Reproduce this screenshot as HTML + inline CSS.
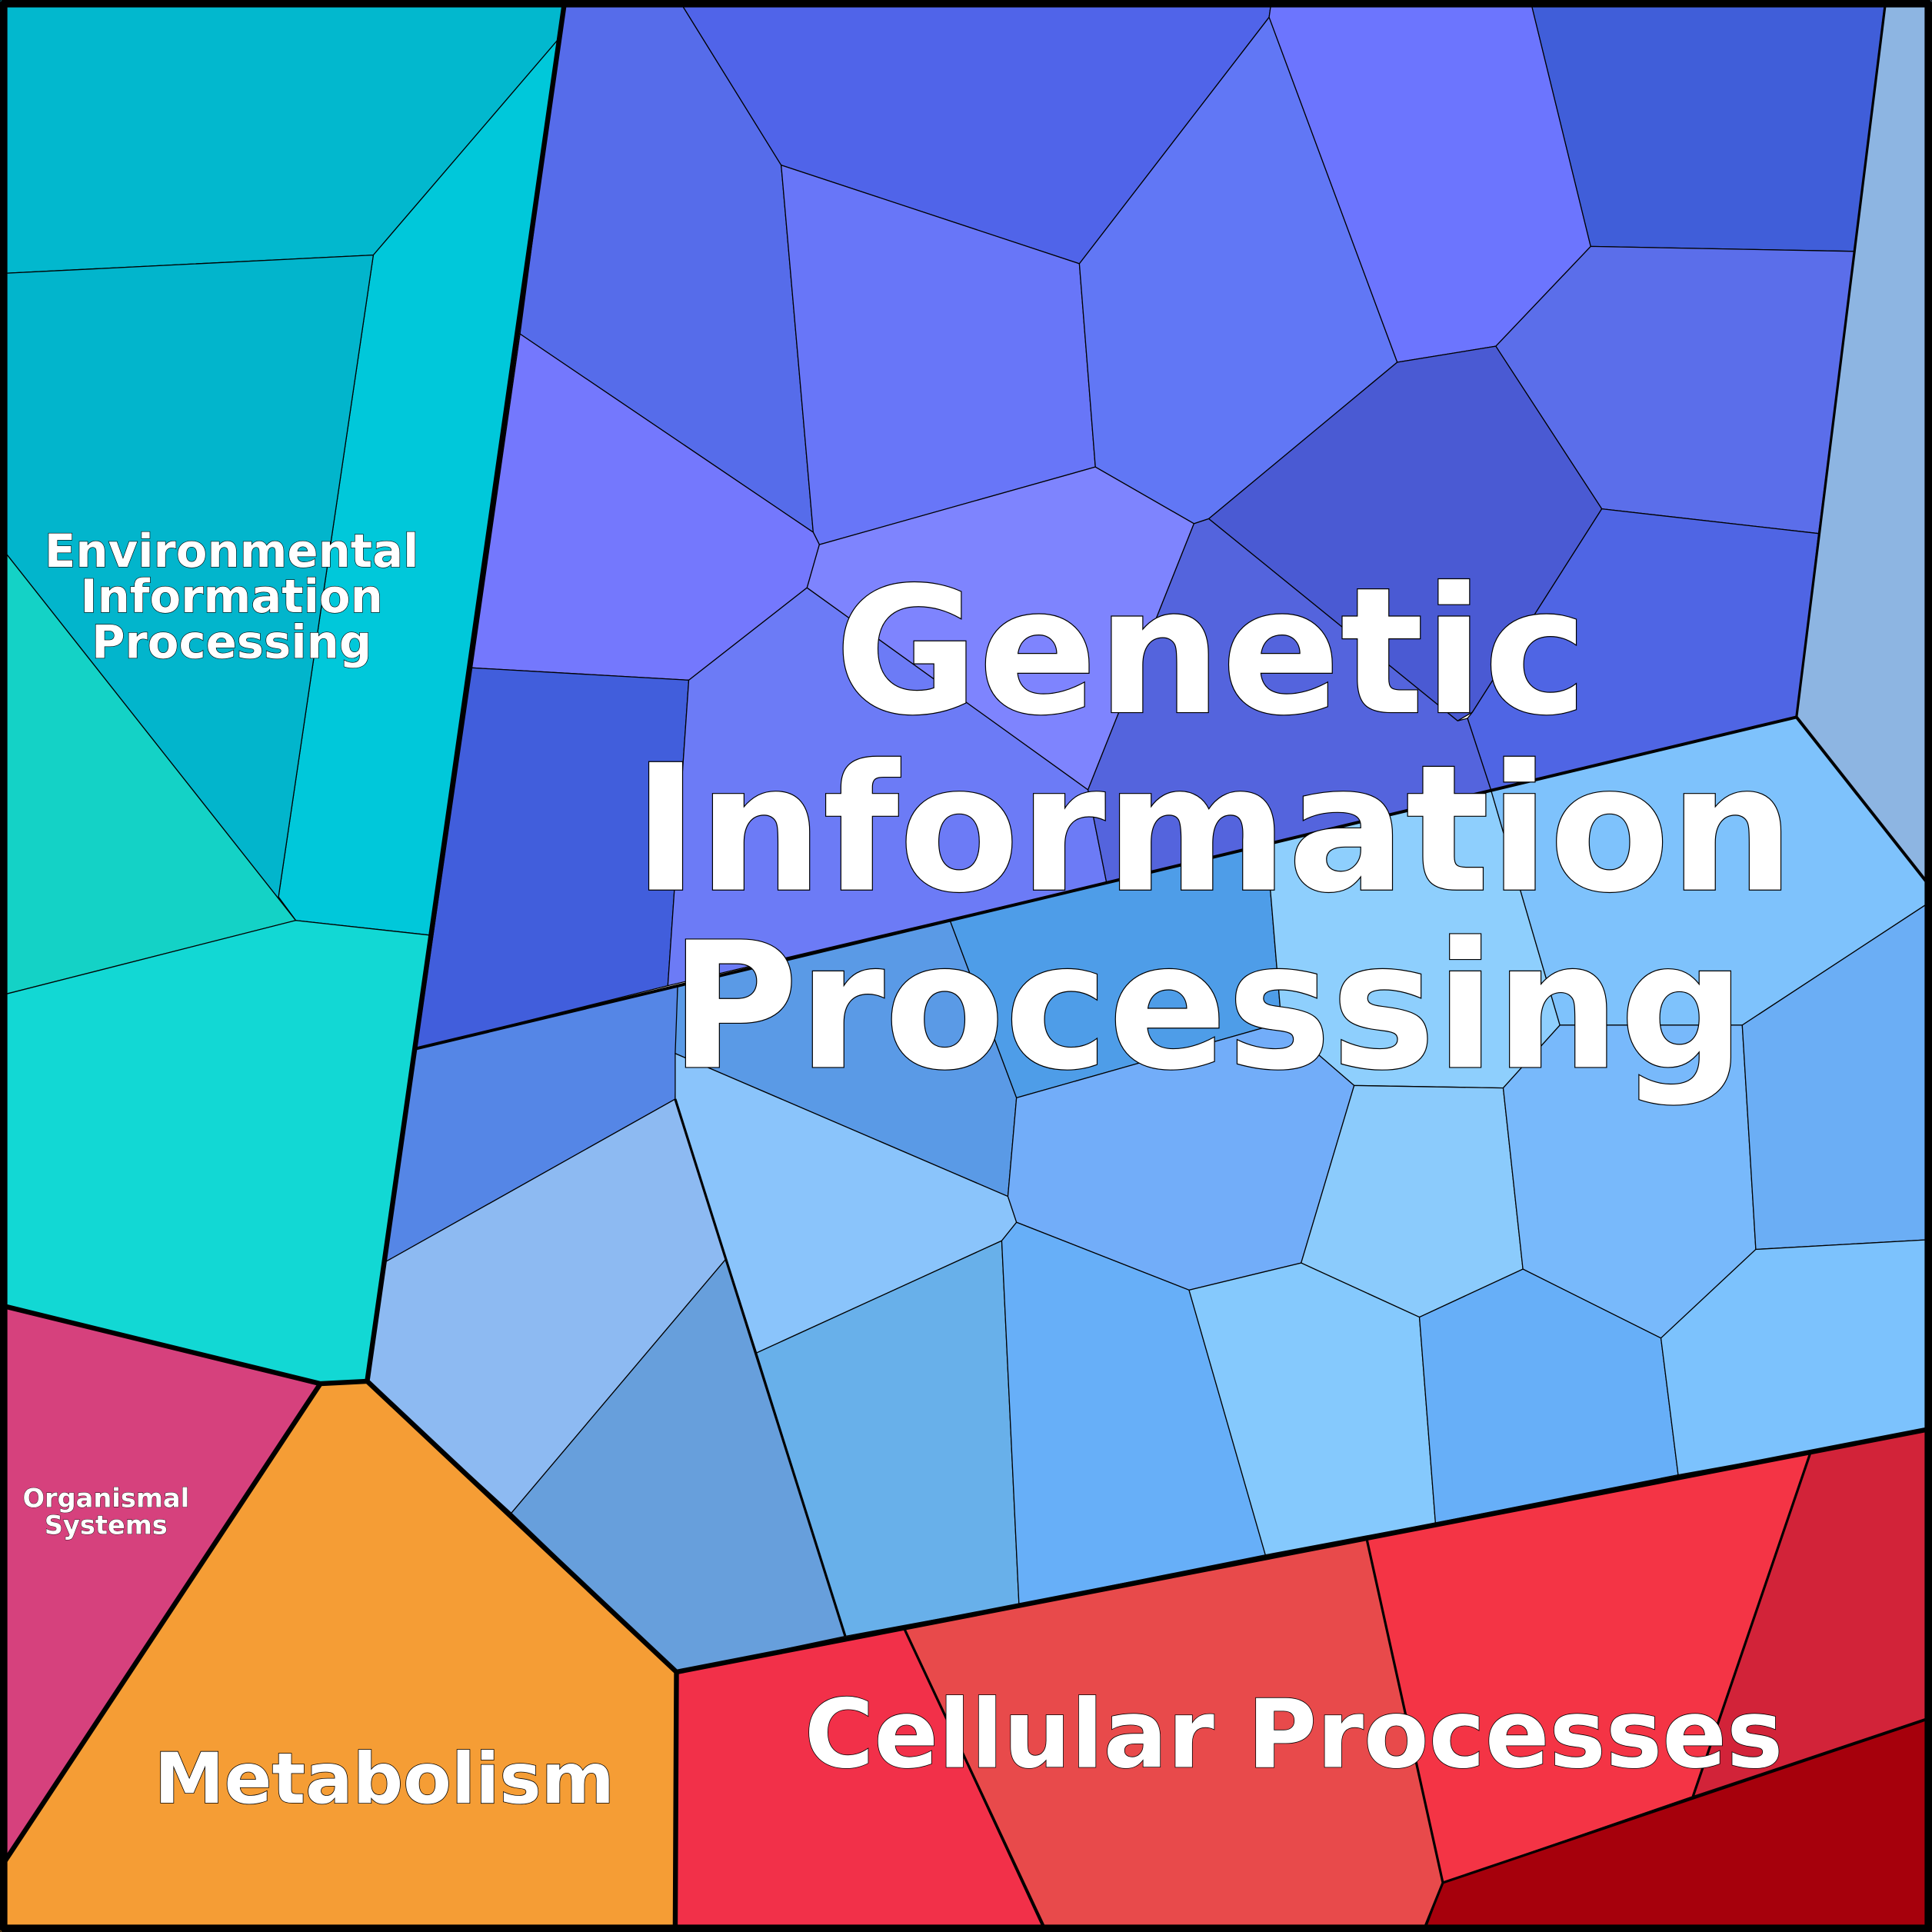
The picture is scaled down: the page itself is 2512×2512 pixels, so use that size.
<!DOCTYPE html>
<html><head><meta charset="utf-8"><style>html,body{margin:0;padding:0;background:#fff}svg{display:block}
text{font-family:"DejaVu Sans","Liberation Sans",sans-serif;font-weight:bold;fill:#fff;stroke:#000;paint-order:stroke;text-anchor:middle}</style></head>
<body>
<svg width="2512" height="2512" viewBox="0 0 1568 1568" xmlns="http://www.w3.org/2000/svg">
<g stroke="#000" stroke-width="0.8" stroke-linejoin="round">
<polygon fill="#02B8CE" points="0,0 458,0 453,32 303,207 0,222"/>
<polygon fill="#00C8DA" points="453,32 458,5 349,759 240,747 226,728 303,207"/>
<polygon fill="#02B5CC" points="0,222 303,207 226,728 240,747 0,443"/>
<polygon fill="#14D2C6" points="0,443 240,747 0,808"/>
<polygon fill="#12D8D4" points="0,808 240,747 349,759 298,1121 260,1123 0,1060"/>
<polygon fill="#D6417D" points="0,1060 260,1123 0,1515"/>
<polygon fill="#F59D35" points="260,1123 298,1121 549,1357 548,1568 0,1568 0,1515"/>
<polygon fill="#F23049" points="549,1357 734,1322 848,1568 548,1568"/>
<polygon fill="#E84A4B" points="734,1322 1109,1248 1171,1528 1156,1568 848,1568"/>
<polygon fill="#F43445" points="1109,1248 1469,1180 1374,1458 1171,1528"/>
<polygon fill="#D22339" points="1469,1180 1568,1160 1568,1395 1374,1458"/>
<polygon fill="#A6000C" points="1171,1528 1374,1458 1568,1393 1568,1568 1156,1568"/>
<polygon fill="#8DB5E2" points="1530,0 1568,0 1568,715 1563,715 1458,582"/>
<polygon fill="#566CEA" points="458,0 551,0 634,134 660,432 422,271"/>
<polygon fill="#5064E9" points="551,0 1032,0 1030,14 876,214 634,134"/>
<polygon fill="#6876F8" points="634,134 876,214 889,379 665,442 660,432"/>
<polygon fill="#6177F5" points="1030,14 1134,294 981,421 969,425 889,379 876,214"/>
<polygon fill="#6C75FE" points="1032,0 1242,0 1291,200 1214,281 1134,294 1030,14"/>
<polygon fill="#405ED9" points="1242,0 1530,0 1505,204 1291,200"/>
<polygon fill="#5B6EEA" points="1291,200 1505,204 1476,433 1300,413 1214,281"/>
<polygon fill="#4A5AD3" points="1134,294 1214,281 1300,413 1195,578 1183,585 981,421"/>
<polygon fill="#4F65E4" points="1300,413 1476,433 1458,582 1210,641 1191,583 1195,578"/>
<polygon fill="#7478FD" points="422,271 660,432 665,442 655,477 559,552 383,542"/>
<polygon fill="#415EDC" points="383,542 559,552 542,800 338,851"/>
<polygon fill="#6C7BF6" points="559,552 655,477 883,641 898,716 542,800"/>
<polygon fill="#7E84FE" points="655,477 665,442 889,379 969,425 883,641"/>
<polygon fill="#5464DD" points="969,425 981,421 1183,585 1191,583 1210,641 898,716 883,641"/>
<polygon fill="#5586E6" points="338,851 550,800 548,892 313,1024"/>
<polygon fill="#8DBAF2" points="313,1024 548,892 589,1022 415,1228 298,1121"/>
<polygon fill="#679FDC" points="589,1022 686,1328 549,1357 415,1228"/>
<polygon fill="#5A9AE6" points="550,800 771,747 825,891 818,971 548,855"/>
<polygon fill="#8AC4FB" points="548,855 818,971 825,992 813,1007 614,1098 548,892"/>
<polygon fill="#4E9DE8" points="771,747 1028,686 1040,830 825,891"/>
<polygon fill="#8ECFFD" points="1028,686 1210,641 1266,832 1220,883 1099,881 1040,830"/>
<polygon fill="#7EC2FC" points="1210,641 1458,582 1563,715 1568,731 1414,832 1266,832"/>
<polygon fill="#72ADF9" points="825,891 1040,830 1099,881 1056,1025 965,1047 825,992 818,971"/>
<polygon fill="#8BCBFC" points="1099,881 1220,883 1236,1030 1152,1069 1056,1025"/>
<polygon fill="#78B9FB" points="1220,883 1266,832 1414,832 1425,1014 1348,1086 1236,1030"/>
<polygon fill="#6BAEF5" points="1414,832 1568,731 1568,1006 1425,1014"/>
<polygon fill="#68B0EA" points="614,1098 813,1007 827,1302 686,1328"/>
<polygon fill="#67AFF8" points="813,1007 825,992 965,1047 1027,1262 827,1302"/>
<polygon fill="#85C9FD" points="965,1047 1056,1025 1152,1069 1165,1236 1027,1262"/>
<polygon fill="#67AFF8" points="1152,1069 1236,1030 1348,1086 1362,1197 1165,1236"/>
<polygon fill="#7CC2FD" points="1348,1086 1425,1014 1568,1006 1568,1160 1362,1197"/>
</g>
<g fill="none" stroke="#000" stroke-linejoin="round">
<polyline stroke-width="2.5" points="338,851 1458,582 1563,715"/>
<polyline stroke-width="2" points="1458,582 1530,4"/>
<polyline stroke-width="2" points="548,892 686,1328"/>
<polyline stroke-width="4" points="458,3 298,1121 549,1357 548,1565"/>
<polyline stroke-width="4" points="3,1060 260,1123 298,1121"/>
<polyline stroke-width="4" points="260,1123 3,1512"/>
<polyline stroke-width="4" points="549,1357 1565,1160"/>
<polyline stroke-width="2" points="734,1322 848,1565"/>
<polyline stroke-width="2" points="1109,1248 1171,1528 1156,1565"/>
<polyline stroke-width="2" points="1469,1180 1374,1458"/>
<polyline stroke-width="2" points="1171,1528 1565,1395"/>
<rect x="3" y="3" width="1562" height="1562" stroke-width="6"/>
</g>
<text x="983" y="578" font-size="142" stroke-width="1.5">Genetic</text>
<text x="985" y="722" font-size="142" stroke-width="1.5">Information</text>
<text x="980" y="866" font-size="142" stroke-width="1.5">Processing</text>
<text x="1050" y="1434" font-size="77" stroke-width="1">Cellular Processes</text>
<text x="312" y="1463" font-size="57" stroke-width="1">Metabolism</text>
<text x="188" y="460" font-size="37" stroke-width="0.8">Environmental</text>
<text x="188" y="497" font-size="37" stroke-width="0.8">Information</text>
<text x="188" y="534" font-size="37" stroke-width="0.8">Processing</text>
<text x="86" y="1223" font-size="21" stroke-width="0.5">Organismal</text>
<text x="86" y="1245" font-size="21" stroke-width="0.5">Systems</text>
</svg>
</body></html>
